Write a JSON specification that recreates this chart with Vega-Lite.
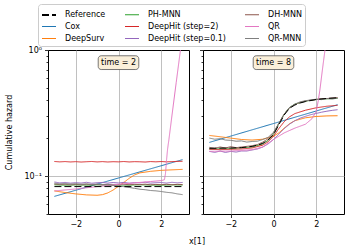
{
"$schema": "https://vega.github.io/schema/vega-lite/v6.json",
"padding": {"top": 3, "left": 5, "right": 5, "bottom": 5},
"bounds": "flush",
"background": "white",
"datasets": {
"lines": [
{"t":2,"s":"Cox","x":-3,"y":0.0690},{"t":2,"s":"Cox","x":3,"y":0.135},
{"t":2,"s":"DeepSurv","x":-3,"y":0.0762},{"t":2,"s":"DeepSurv","x":-2.5,"y":0.0740},{"t":2,"s":"DeepSurv","x":-2,"y":0.0722},{"t":2,"s":"DeepSurv","x":-1.5,"y":0.0709},{"t":2,"s":"DeepSurv","x":-1,"y":0.0704},{"t":2,"s":"DeepSurv","x":-0.75,"y":0.0712},{"t":2,"s":"DeepSurv","x":-0.5,"y":0.0735},{"t":2,"s":"DeepSurv","x":-0.25,"y":0.0775},{"t":2,"s":"DeepSurv","x":0,"y":0.0830},{"t":2,"s":"DeepSurv","x":0.25,"y":0.0890},{"t":2,"s":"DeepSurv","x":0.5,"y":0.0960},{"t":2,"s":"DeepSurv","x":0.75,"y":0.1020},{"t":2,"s":"DeepSurv","x":1,"y":0.1060},{"t":2,"s":"DeepSurv","x":1.5,"y":0.1090},{"t":2,"s":"DeepSurv","x":2,"y":0.1110},{"t":2,"s":"DeepSurv","x":2.5,"y":0.1120},{"t":2,"s":"DeepSurv","x":3,"y":0.1130},
{"t":2,"s":"PH-MNN","x":-3,"y":0.0852},{"t":2,"s":"PH-MNN","x":-2.5,"y":0.0846},{"t":2,"s":"PH-MNN","x":-2,"y":0.0850},{"t":2,"s":"PH-MNN","x":-1.5,"y":0.0847},{"t":2,"s":"PH-MNN","x":-1,"y":0.0851},{"t":2,"s":"PH-MNN","x":-0.5,"y":0.0846},{"t":2,"s":"PH-MNN","x":0,"y":0.0849},{"t":2,"s":"PH-MNN","x":0.5,"y":0.0847},{"t":2,"s":"PH-MNN","x":1,"y":0.0852},{"t":2,"s":"PH-MNN","x":1.5,"y":0.0848},{"t":2,"s":"PH-MNN","x":2,"y":0.0846},{"t":2,"s":"PH-MNN","x":2.5,"y":0.0851},{"t":2,"s":"PH-MNN","x":3,"y":0.0849},
{"t":2,"s":"DeepHit (step=2)","x":-3,"y":0.1305},{"t":2,"s":"DeepHit (step=2)","x":-2.75,"y":0.1296},{"t":2,"s":"DeepHit (step=2)","x":-2.5,"y":0.1303},{"t":2,"s":"DeepHit (step=2)","x":-2.25,"y":0.1294},{"t":2,"s":"DeepHit (step=2)","x":-2,"y":0.1301},{"t":2,"s":"DeepHit (step=2)","x":-1.75,"y":0.1292},{"t":2,"s":"DeepHit (step=2)","x":-1.5,"y":0.1299},{"t":2,"s":"DeepHit (step=2)","x":-1.25,"y":0.1305},{"t":2,"s":"DeepHit (step=2)","x":-1,"y":0.1295},{"t":2,"s":"DeepHit (step=2)","x":-0.75,"y":0.1302},{"t":2,"s":"DeepHit (step=2)","x":-0.5,"y":0.1293},{"t":2,"s":"DeepHit (step=2)","x":-0.25,"y":0.1300},{"t":2,"s":"DeepHit (step=2)","x":0,"y":0.1296},{"t":2,"s":"DeepHit (step=2)","x":0.25,"y":0.1304},{"t":2,"s":"DeepHit (step=2)","x":0.5,"y":0.1294},{"t":2,"s":"DeepHit (step=2)","x":0.75,"y":0.1301},{"t":2,"s":"DeepHit (step=2)","x":1,"y":0.1298},{"t":2,"s":"DeepHit (step=2)","x":1.25,"y":0.1292},{"t":2,"s":"DeepHit (step=2)","x":1.5,"y":0.1303},{"t":2,"s":"DeepHit (step=2)","x":1.75,"y":0.1297},{"t":2,"s":"DeepHit (step=2)","x":2,"y":0.1304},{"t":2,"s":"DeepHit (step=2)","x":2.25,"y":0.1296},{"t":2,"s":"DeepHit (step=2)","x":2.5,"y":0.1302},{"t":2,"s":"DeepHit (step=2)","x":2.75,"y":0.1307},{"t":2,"s":"DeepHit (step=2)","x":3,"y":0.1310},
{"t":2,"s":"DeepHit (step=0.1)","x":-3,"y":0.0897},{"t":2,"s":"DeepHit (step=0.1)","x":-2.75,"y":0.0883},{"t":2,"s":"DeepHit (step=0.1)","x":-2.5,"y":0.0890},{"t":2,"s":"DeepHit (step=0.1)","x":-2.25,"y":0.0879},{"t":2,"s":"DeepHit (step=0.1)","x":-2,"y":0.0887},{"t":2,"s":"DeepHit (step=0.1)","x":-1.75,"y":0.0880},{"t":2,"s":"DeepHit (step=0.1)","x":-1.5,"y":0.0892},{"t":2,"s":"DeepHit (step=0.1)","x":-1.25,"y":0.0877},{"t":2,"s":"DeepHit (step=0.1)","x":-1,"y":0.0885},{"t":2,"s":"DeepHit (step=0.1)","x":-0.75,"y":0.0890},{"t":2,"s":"DeepHit (step=0.1)","x":-0.5,"y":0.0879},{"t":2,"s":"DeepHit (step=0.1)","x":-0.25,"y":0.0888},{"t":2,"s":"DeepHit (step=0.1)","x":0,"y":0.0881},{"t":2,"s":"DeepHit (step=0.1)","x":0.25,"y":0.0891},{"t":2,"s":"DeepHit (step=0.1)","x":0.5,"y":0.0878},{"t":2,"s":"DeepHit (step=0.1)","x":0.75,"y":0.0887},{"t":2,"s":"DeepHit (step=0.1)","x":1,"y":0.0883},{"t":2,"s":"DeepHit (step=0.1)","x":1.25,"y":0.0893},{"t":2,"s":"DeepHit (step=0.1)","x":1.5,"y":0.0879},{"t":2,"s":"DeepHit (step=0.1)","x":1.75,"y":0.0886},{"t":2,"s":"DeepHit (step=0.1)","x":2,"y":0.0889},{"t":2,"s":"DeepHit (step=0.1)","x":2.25,"y":0.0880},{"t":2,"s":"DeepHit (step=0.1)","x":2.5,"y":0.0892},{"t":2,"s":"DeepHit (step=0.1)","x":2.75,"y":0.0884},{"t":2,"s":"DeepHit (step=0.1)","x":3,"y":0.0890},
{"t":2,"s":"DH-MNN","x":-3,"y":0.0864},{"t":2,"s":"DH-MNN","x":-2.75,"y":0.0855},{"t":2,"s":"DH-MNN","x":-2.5,"y":0.0860},{"t":2,"s":"DH-MNN","x":-2.25,"y":0.0852},{"t":2,"s":"DH-MNN","x":-2,"y":0.0859},{"t":2,"s":"DH-MNN","x":-1.75,"y":0.0853},{"t":2,"s":"DH-MNN","x":-1.5,"y":0.0861},{"t":2,"s":"DH-MNN","x":-1.25,"y":0.0852},{"t":2,"s":"DH-MNN","x":-1,"y":0.0858},{"t":2,"s":"DH-MNN","x":-0.75,"y":0.0854},{"t":2,"s":"DH-MNN","x":-0.5,"y":0.0860},{"t":2,"s":"DH-MNN","x":-0.25,"y":0.0851},{"t":2,"s":"DH-MNN","x":0,"y":0.0857},{"t":2,"s":"DH-MNN","x":0.25,"y":0.0861},{"t":2,"s":"DH-MNN","x":0.5,"y":0.0853},{"t":2,"s":"DH-MNN","x":0.75,"y":0.0859},{"t":2,"s":"DH-MNN","x":1,"y":0.0855},{"t":2,"s":"DH-MNN","x":1.25,"y":0.0862},{"t":2,"s":"DH-MNN","x":1.5,"y":0.0852},{"t":2,"s":"DH-MNN","x":1.75,"y":0.0858},{"t":2,"s":"DH-MNN","x":2,"y":0.0854},{"t":2,"s":"DH-MNN","x":2.25,"y":0.0860},{"t":2,"s":"DH-MNN","x":2.5,"y":0.0853},{"t":2,"s":"DH-MNN","x":2.75,"y":0.0859},{"t":2,"s":"DH-MNN","x":3,"y":0.0856},
{"t":2,"s":"QR","x":-3,"y":0.0762},{"t":2,"s":"QR","x":-2,"y":0.0790},{"t":2,"s":"QR","x":-1,"y":0.0825},{"t":2,"s":"QR","x":0,"y":0.0860},{"t":2,"s":"QR","x":1,"y":0.0890},{"t":2,"s":"QR","x":1.5,"y":0.0905},{"t":2,"s":"QR","x":2,"y":0.0920},{"t":2,"s":"QR","x":2.15,"y":0.0935},{"t":2,"s":"QR","x":2.2,"y":0.105},{"t":2,"s":"QR","x":2.25,"y":0.135},{"t":2,"s":"QR","x":2.3,"y":0.165},{"t":2,"s":"QR","x":2.36,"y":0.195},{"t":2,"s":"QR","x":2.5,"y":0.30},{"t":2,"s":"QR","x":2.7,"y":0.55},{"t":2,"s":"QR","x":2.9,"y":1.0},{"t":2,"s":"QR","x":3,"y":1.3},
{"t":2,"s":"QR-MNN","x":-3,"y":0.0878},{"t":2,"s":"QR-MNN","x":-2.75,"y":0.0868},{"t":2,"s":"QR-MNN","x":-2.5,"y":0.0874},{"t":2,"s":"QR-MNN","x":-2.25,"y":0.0864},{"t":2,"s":"QR-MNN","x":-2,"y":0.0870},{"t":2,"s":"QR-MNN","x":-1.75,"y":0.0861},{"t":2,"s":"QR-MNN","x":-1.5,"y":0.0867},{"t":2,"s":"QR-MNN","x":-1.25,"y":0.0858},{"t":2,"s":"QR-MNN","x":-1,"y":0.0862},{"t":2,"s":"QR-MNN","x":-0.75,"y":0.0855},{"t":2,"s":"QR-MNN","x":-0.5,"y":0.0851},{"t":2,"s":"QR-MNN","x":-0.25,"y":0.0845},{"t":2,"s":"QR-MNN","x":0,"y":0.0836},{"t":2,"s":"QR-MNN","x":0.25,"y":0.0824},{"t":2,"s":"QR-MNN","x":0.5,"y":0.0812},{"t":2,"s":"QR-MNN","x":0.75,"y":0.0799},{"t":2,"s":"QR-MNN","x":1,"y":0.0786},{"t":2,"s":"QR-MNN","x":1.25,"y":0.0779},{"t":2,"s":"QR-MNN","x":1.5,"y":0.0768},{"t":2,"s":"QR-MNN","x":1.75,"y":0.0763},{"t":2,"s":"QR-MNN","x":2,"y":0.0754},{"t":2,"s":"QR-MNN","x":2.25,"y":0.0743},{"t":2,"s":"QR-MNN","x":2.5,"y":0.0736},{"t":2,"s":"QR-MNN","x":2.75,"y":0.0722},{"t":2,"s":"QR-MNN","x":3,"y":0.0712},
{"t":2,"s":"Reference","x":-3,"y":0.0825},{"t":2,"s":"Reference","x":3,"y":0.0825},

{"t":8,"s":"Cox","x":-3,"y":0.185},{"t":8,"s":"Cox","x":3,"y":0.368},
{"t":8,"s":"DeepSurv","x":-3,"y":0.210},{"t":8,"s":"DeepSurv","x":-2.5,"y":0.205},{"t":8,"s":"DeepSurv","x":-2,"y":0.200},{"t":8,"s":"DeepSurv","x":-1.5,"y":0.195},{"t":8,"s":"DeepSurv","x":-1,"y":0.193},{"t":8,"s":"DeepSurv","x":-0.5,"y":0.196},{"t":8,"s":"DeepSurv","x":0,"y":0.207},{"t":8,"s":"DeepSurv","x":0.25,"y":0.220},{"t":8,"s":"DeepSurv","x":0.5,"y":0.240},{"t":8,"s":"DeepSurv","x":0.75,"y":0.260},{"t":8,"s":"DeepSurv","x":1,"y":0.275},{"t":8,"s":"DeepSurv","x":1.5,"y":0.290},{"t":8,"s":"DeepSurv","x":2,"y":0.297},{"t":8,"s":"DeepSurv","x":2.5,"y":0.300},{"t":8,"s":"DeepSurv","x":3,"y":0.301},
{"t":8,"s":"PH-MNN","x":-3,"y":0.164},{"t":8,"s":"PH-MNN","x":-2,"y":0.165},{"t":8,"s":"PH-MNN","x":-1,"y":0.170},{"t":8,"s":"PH-MNN","x":-0.5,"y":0.180},{"t":8,"s":"PH-MNN","x":-0.25,"y":0.192},{"t":8,"s":"PH-MNN","x":0,"y":0.215},{"t":8,"s":"PH-MNN","x":0.25,"y":0.260},{"t":8,"s":"PH-MNN","x":0.5,"y":0.310},{"t":8,"s":"PH-MNN","x":0.75,"y":0.350},{"t":8,"s":"PH-MNN","x":1,"y":0.372},{"t":8,"s":"PH-MNN","x":1.5,"y":0.393},{"t":8,"s":"PH-MNN","x":2,"y":0.405},{"t":8,"s":"PH-MNN","x":2.5,"y":0.410},{"t":8,"s":"PH-MNN","x":3,"y":0.413},
{"t":8,"s":"DeepHit (step=2)","x":-3,"y":0.163},{"t":8,"s":"DeepHit (step=2)","x":-2.5,"y":0.162},{"t":8,"s":"DeepHit (step=2)","x":-2,"y":0.163},{"t":8,"s":"DeepHit (step=2)","x":-1.5,"y":0.164},{"t":8,"s":"DeepHit (step=2)","x":-1,"y":0.167},{"t":8,"s":"DeepHit (step=2)","x":-0.5,"y":0.176},{"t":8,"s":"DeepHit (step=2)","x":-0.25,"y":0.187},{"t":8,"s":"DeepHit (step=2)","x":0,"y":0.207},{"t":8,"s":"DeepHit (step=2)","x":0.25,"y":0.238},{"t":8,"s":"DeepHit (step=2)","x":0.5,"y":0.270},{"t":8,"s":"DeepHit (step=2)","x":0.75,"y":0.295},{"t":8,"s":"DeepHit (step=2)","x":1,"y":0.313},{"t":8,"s":"DeepHit (step=2)","x":1.5,"y":0.333},{"t":8,"s":"DeepHit (step=2)","x":2,"y":0.348},{"t":8,"s":"DeepHit (step=2)","x":2.5,"y":0.358},{"t":8,"s":"DeepHit (step=2)","x":3,"y":0.364},
{"t":8,"s":"DeepHit (step=0.1)","x":-3,"y":0.157},{"t":8,"s":"DeepHit (step=0.1)","x":-2.75,"y":0.154},{"t":8,"s":"DeepHit (step=0.1)","x":-2.5,"y":0.158},{"t":8,"s":"DeepHit (step=0.1)","x":-2.25,"y":0.154},{"t":8,"s":"DeepHit (step=0.1)","x":-2,"y":0.157},{"t":8,"s":"DeepHit (step=0.1)","x":-1.75,"y":0.155},{"t":8,"s":"DeepHit (step=0.1)","x":-1.5,"y":0.158},{"t":8,"s":"DeepHit (step=0.1)","x":-1.25,"y":0.158},{"t":8,"s":"DeepHit (step=0.1)","x":-1,"y":0.161},{"t":8,"s":"DeepHit (step=0.1)","x":-0.75,"y":0.164},{"t":8,"s":"DeepHit (step=0.1)","x":-0.5,"y":0.170},{"t":8,"s":"DeepHit (step=0.1)","x":-0.25,"y":0.180},{"t":8,"s":"DeepHit (step=0.1)","x":0,"y":0.195},{"t":8,"s":"DeepHit (step=0.1)","x":0.25,"y":0.215},{"t":8,"s":"DeepHit (step=0.1)","x":0.5,"y":0.238},{"t":8,"s":"DeepHit (step=0.1)","x":0.75,"y":0.258},{"t":8,"s":"DeepHit (step=0.1)","x":1,"y":0.275},{"t":8,"s":"DeepHit (step=0.1)","x":1.25,"y":0.288},{"t":8,"s":"DeepHit (step=0.1)","x":1.5,"y":0.298},{"t":8,"s":"DeepHit (step=0.1)","x":1.75,"y":0.307},{"t":8,"s":"DeepHit (step=0.1)","x":2,"y":0.314},{"t":8,"s":"DeepHit (step=0.1)","x":2.25,"y":0.321},{"t":8,"s":"DeepHit (step=0.1)","x":2.5,"y":0.327},{"t":8,"s":"DeepHit (step=0.1)","x":2.75,"y":0.332},{"t":8,"s":"DeepHit (step=0.1)","x":3,"y":0.336},
{"t":8,"s":"DH-MNN","x":-3,"y":0.169},{"t":8,"s":"DH-MNN","x":-2.75,"y":0.166},{"t":8,"s":"DH-MNN","x":-2.5,"y":0.170},{"t":8,"s":"DH-MNN","x":-2.25,"y":0.167},{"t":8,"s":"DH-MNN","x":-2,"y":0.171},{"t":8,"s":"DH-MNN","x":-1.75,"y":0.168},{"t":8,"s":"DH-MNN","x":-1.5,"y":0.170},{"t":8,"s":"DH-MNN","x":-1.25,"y":0.172},{"t":8,"s":"DH-MNN","x":-1,"y":0.174},{"t":8,"s":"DH-MNN","x":-0.75,"y":0.178},{"t":8,"s":"DH-MNN","x":-0.5,"y":0.186},{"t":8,"s":"DH-MNN","x":-0.25,"y":0.198},{"t":8,"s":"DH-MNN","x":0,"y":0.220},{"t":8,"s":"DH-MNN","x":0.25,"y":0.262},{"t":8,"s":"DH-MNN","x":0.5,"y":0.310},{"t":8,"s":"DH-MNN","x":0.75,"y":0.348},{"t":8,"s":"DH-MNN","x":1,"y":0.370},{"t":8,"s":"DH-MNN","x":1.25,"y":0.384},{"t":8,"s":"DH-MNN","x":1.5,"y":0.394},{"t":8,"s":"DH-MNN","x":1.75,"y":0.400},{"t":8,"s":"DH-MNN","x":2,"y":0.405},{"t":8,"s":"DH-MNN","x":2.25,"y":0.410},{"t":8,"s":"DH-MNN","x":2.5,"y":0.412},{"t":8,"s":"DH-MNN","x":2.75,"y":0.416},{"t":8,"s":"DH-MNN","x":3,"y":0.419},
{"t":8,"s":"QR","x":-3,"y":0.157},{"t":8,"s":"QR","x":-2,"y":0.158},{"t":8,"s":"QR","x":-1,"y":0.162},{"t":8,"s":"QR","x":-0.5,"y":0.170},{"t":8,"s":"QR","x":0,"y":0.195},{"t":8,"s":"QR","x":0.5,"y":0.220},{"t":8,"s":"QR","x":1,"y":0.240},{"t":8,"s":"QR","x":1.5,"y":0.258},{"t":8,"s":"QR","x":1.8,"y":0.285},{"t":8,"s":"QR","x":2,"y":0.325},{"t":8,"s":"QR","x":2.1,"y":0.400},{"t":8,"s":"QR","x":2.17,"y":0.480},{"t":8,"s":"QR","x":2.3,"y":0.720},{"t":8,"s":"QR","x":2.41,"y":1.0},{"t":8,"s":"QR","x":2.5,"y":1.25},
{"t":8,"s":"QR-MNN","x":-3,"y":0.200},{"t":8,"s":"QR-MNN","x":-2.75,"y":0.196},{"t":8,"s":"QR-MNN","x":-2.5,"y":0.198},{"t":8,"s":"QR-MNN","x":-2.25,"y":0.193},{"t":8,"s":"QR-MNN","x":-2,"y":0.192},{"t":8,"s":"QR-MNN","x":-1.75,"y":0.189},{"t":8,"s":"QR-MNN","x":-1.5,"y":0.190},{"t":8,"s":"QR-MNN","x":-1.25,"y":0.186},{"t":8,"s":"QR-MNN","x":-1,"y":0.188},{"t":8,"s":"QR-MNN","x":-0.75,"y":0.189},{"t":8,"s":"QR-MNN","x":-0.5,"y":0.195},{"t":8,"s":"QR-MNN","x":-0.25,"y":0.203},{"t":8,"s":"QR-MNN","x":0,"y":0.222},{"t":8,"s":"QR-MNN","x":0.25,"y":0.262},{"t":8,"s":"QR-MNN","x":0.5,"y":0.310},{"t":8,"s":"QR-MNN","x":0.75,"y":0.350},{"t":8,"s":"QR-MNN","x":1,"y":0.372},{"t":8,"s":"QR-MNN","x":1.25,"y":0.388},{"t":8,"s":"QR-MNN","x":1.5,"y":0.396},{"t":8,"s":"QR-MNN","x":1.75,"y":0.402},{"t":8,"s":"QR-MNN","x":2,"y":0.407},{"t":8,"s":"QR-MNN","x":2.25,"y":0.404},{"t":8,"s":"QR-MNN","x":2.5,"y":0.412},{"t":8,"s":"QR-MNN","x":2.75,"y":0.409},{"t":8,"s":"QR-MNN","x":3,"y":0.415},
{"t":8,"s":"Reference","x":-3,"y":0.166},{"t":8,"s":"Reference","x":-2,"y":0.167},{"t":8,"s":"Reference","x":-1.5,"y":0.168},{"t":8,"s":"Reference","x":-1,"y":0.172},{"t":8,"s":"Reference","x":-0.75,"y":0.176},{"t":8,"s":"Reference","x":-0.5,"y":0.182},{"t":8,"s":"Reference","x":-0.25,"y":0.193},{"t":8,"s":"Reference","x":0,"y":0.213},{"t":8,"s":"Reference","x":0.25,"y":0.255},{"t":8,"s":"Reference","x":0.5,"y":0.305},{"t":8,"s":"Reference","x":0.75,"y":0.345},{"t":8,"s":"Reference","x":1,"y":0.366},{"t":8,"s":"Reference","x":1.25,"y":0.380},{"t":8,"s":"Reference","x":1.5,"y":0.390},{"t":8,"s":"Reference","x":2,"y":0.405},{"t":8,"s":"Reference","x":2.5,"y":0.413},{"t":8,"s":"Reference","x":3,"y":0.418}
]
},
"hconcat": [
{
"width": 141, "height": 164,
"layer": [
{"data": {"name": "lines"}, "transform": [{"filter": "datum.t == 2"}],
 "mark": {"type": "line", "clip": true, "strokeWidth": 1},
 "encoding": {
  "x": {"field": "x", "type": "quantitative", "scale": {"domain": [-3.3, 3.3], "nice": false, "zero": false},
        "axis": {"values": [-2, 0, 2], "title": "x[1]", "titleX": 148.5, "titlePadding": 9, "tickSize": 3.5}},
  "y": {"field": "y", "type": "quantitative", "scale": {"type": "log", "domain": [0.05, 1], "nice": false},
        "axis": {"values": [0.05,0.06,0.07,0.08,0.09,0.1,0.2,0.3,0.4,0.5,0.6,0.7,0.8,0.9,1],
                 "labelExpr": "datum.value == 0.1 ? '10⁻¹' : (datum.value == 1 ? '10⁰' : '')",
                 "title": "Cumulative hazard", "titlePadding": 10, "labelPadding": 3,
                 "tickSize": {"condition": {"test": "datum.value == 0.1 || datum.value == 1", "value": 3.5}, "value": 2},
                 "gridOpacity": {"condition": {"test": "datum.value == 0.1", "value": 1}, "value": 0}}},
  "color": {"field": "s", "type": "nominal",
            "scale": {"domain": ["Reference","Cox","DeepSurv","PH-MNN","DeepHit (step=2)","DeepHit (step=0.1)","DH-MNN","QR","QR-MNN"],
                      "range": ["#000000","#1f77b4","#ff7f0e","#2ca02c","#d62728","#9467bd","#8c564b","#e377c2","#7f7f7f"]},
            "legend": {"title": null, "orient": "none", "legendX": -10, "legendY": -46, "columns": 3, "symbolType": "stroke", "symbolSize": 196,
                       "labelFontSize": 8, "labelFont": "DejaVu Sans", "labelOffset": 8, "columnPadding": 17, "rowPadding": 0, "gridAlign": "each",
                       "padding": 3, "strokeColor": "#cccccc", "fillColor": "#ffffff", "cornerRadius": 3}},
  "strokeDash": {"field": "s", "type": "nominal",
            "scale": {"domain": ["Reference","Cox","DeepSurv","PH-MNN","DeepHit (step=2)","DeepHit (step=0.1)","DH-MNN","QR","QR-MNN"],
                      "range": [[7,3],[1,0],[1,0],[1,0],[1,0],[1,0],[1,0],[1,0],[1,0]]}},
  "strokeWidth": {"field": "s", "type": "nominal",
            "scale": {"type": "ordinal", "domain": ["Reference","Cox","DeepSurv","PH-MNN","DeepHit (step=2)","DeepHit (step=0.1)","DH-MNN","QR","QR-MNN"],
                      "range": [2,1,1,1,1,1,1,1,1]}}
 }},
{"data": {"values": [{"label": "time = 2"}]},
 "mark": {"type": "rect", "cornerRadius": 3, "fill": "#faefd9", "stroke": "#555555", "strokeWidth": 0.8},
 "encoding": {"x": {"datum": -0.95, "type": "quantitative"}, "x2": {"datum": 0.95},
              "y": {"datum": 0.70, "type": "quantitative"}, "y2": {"datum": 0.9}}},
{"data": {"values": [{"label": "time = 2"}]},
 "mark": {"type": "text", "fontSize": 8, "font": "DejaVu Sans", "baseline": "middle"},
 "encoding": {"x": {"datum": 0, "type": "quantitative"}, "y": {"datum": 0.795, "type": "quantitative"},
              "text": {"field": "label"}}}
]
},
{
"width": 141, "height": 164,
"layer": [
{"data": {"name": "lines"}, "transform": [{"filter": "datum.t == 8"}],
 "mark": {"type": "line", "clip": true, "strokeWidth": 1},
 "encoding": {
  "x": {"field": "x", "type": "quantitative", "scale": {"domain": [-3.3, 3.3], "nice": false, "zero": false},
        "axis": {"values": [-2, 0, 2], "title": null, "tickSize": 3.5}},
  "y": {"field": "y", "type": "quantitative", "scale": {"type": "log", "domain": [0.05, 1], "nice": false},
        "axis": {"values": [0.05,0.06,0.07,0.08,0.09,0.1,0.2,0.3,0.4,0.5,0.6,0.7,0.8,0.9,1],
                 "labels": false, "title": null,
                 "tickSize": {"condition": {"test": "datum.value == 0.1 || datum.value == 1", "value": 3.5}, "value": 2},
                 "gridOpacity": {"condition": {"test": "datum.value == 0.1", "value": 1}, "value": 0}}},
  "color": {"field": "s", "type": "nominal",
            "scale": {"domain": ["Reference","Cox","DeepSurv","PH-MNN","DeepHit (step=2)","DeepHit (step=0.1)","DH-MNN","QR","QR-MNN"],
                      "range": ["#000000","#1f77b4","#ff7f0e","#2ca02c","#d62728","#9467bd","#8c564b","#e377c2","#7f7f7f"]},
            "legend": {"title": null, "orient": "none", "legendX": -10, "legendY": -46, "columns": 3, "symbolType": "stroke", "symbolSize": 196,
                       "labelFontSize": 8, "labelFont": "DejaVu Sans", "labelOffset": 8, "columnPadding": 17, "rowPadding": 0, "gridAlign": "each",
                       "padding": 3, "strokeColor": "#cccccc", "fillColor": "#ffffff", "cornerRadius": 3}},
  "strokeDash": {"field": "s", "type": "nominal",
            "scale": {"domain": ["Reference","Cox","DeepSurv","PH-MNN","DeepHit (step=2)","DeepHit (step=0.1)","DH-MNN","QR","QR-MNN"],
                      "range": [[7,3],[1,0],[1,0],[1,0],[1,0],[1,0],[1,0],[1,0],[1,0]]}},
  "strokeWidth": {"field": "s", "type": "nominal",
            "scale": {"type": "ordinal", "domain": ["Reference","Cox","DeepSurv","PH-MNN","DeepHit (step=2)","DeepHit (step=0.1)","DH-MNN","QR","QR-MNN"],
                      "range": [2,1,1,1,1,1,1,1,1]}}
 }},
{"data": {"values": [{"label": "time = 8"}]},
 "mark": {"type": "rect", "cornerRadius": 3, "fill": "#faefd9", "stroke": "#555555", "strokeWidth": 0.8},
 "encoding": {"x": {"datum": -0.95, "type": "quantitative"}, "x2": {"datum": 0.95},
              "y": {"datum": 0.70, "type": "quantitative"}, "y2": {"datum": 0.9}}},
{"data": {"values": [{"label": "time = 8"}]},
 "mark": {"type": "text", "fontSize": 8, "font": "DejaVu Sans", "baseline": "middle"},
 "encoding": {"x": {"datum": 0, "type": "quantitative"}, "y": {"datum": 0.795, "type": "quantitative"},
              "text": {"field": "label"}}}
]
}
],
"spacing": 14,
"config": {
 "font": "DejaVu Sans",
 "view": {"stroke": "#000000", "strokeWidth": 1},
 "axis": {"domain": false, "labelFontSize": 8, "titleFontSize": 8, "labelColor": "#000000", "titleColor": "#000000",
          "tickColor": "#000000", "tickWidth": 0.8, "gridColor": "#b0b0b0", "gridWidth": 0.8, "labelFont": "DejaVu Sans",
          "titleFont": "DejaVu Sans", "titleFontWeight": "normal", "labelPadding": 3}
}
}
